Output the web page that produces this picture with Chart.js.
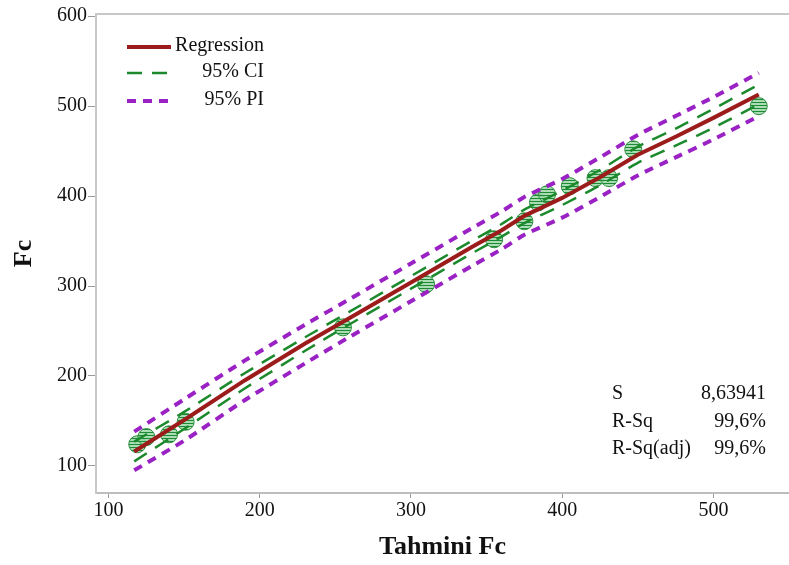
<!DOCTYPE html>
<html>
<head>
<meta charset="utf-8">
<script src="https://cdn.jsdelivr.net/npm/chart.js@4.4.1/dist/chart.umd.min.js"></script>
<style>
  html, body { margin: 0; padding: 0; background: #fff; }
  #wrap { width: 789px; height: 565px; }
</style>
</head>
<body>
<div id="wrap"><canvas id="fitChart"></canvas></div>
<script>
// observations: predicted Fc (x) vs measured Fc (y)
const predicted = [119, 125, 140, 151, 255, 310, 355, 375, 384, 390, 405, 422, 431, 447, 530];
const measured = [124, 132, 135, 149, 254, 302, 352, 372, 393, 402, 411, 420, 420, 452, 500];

// fitted line and bands
const fitX = [117, 150, 190, 230, 260, 300, 340, 360, 375, 400, 425, 450, 475, 500, 530];
const regression = [116, 151, 195, 236, 265, 304, 343, 362, 378, 398, 421, 446, 466, 487, 513];
const ciUpper = [127, 160, 203, 243, 272, 311, 350, 369, 385, 406, 429, 455, 475, 497, 524];
const ciLower = [105, 141, 186, 228, 258, 297, 336, 355, 370, 390, 412, 437, 456, 476, 502];
const piUpper = [138, 174, 217, 257, 286, 325, 364, 383, 399, 419, 443, 468, 489, 510, 537];
const piLower = [95, 128, 173, 214, 244, 283, 322, 341, 357, 376, 399, 423, 443, 463, 489];

const xTicks = [100, 200, 300, 400, 500];
const yTicks = [100, 200, 300, 400, 500, 600];

const statLabels = ["S", "R-Sq", "R-Sq(adj)"];
const statValues = ["8,63941", "99,6%", "99,6%"];

const serif = '"Liberation Serif", "Times New Roman", serif';
const pts = (xs, ys) => xs.map((x, i) => ({ x: x, y: ys[i] }));

const ctx = document.getElementById("fitChart").getContext("2d");

// horizontal hatch used inside the markers
function hatch() {
  const c = document.createElement("canvas");
  c.width = 4;
  c.height = 3;
  const g = c.getContext("2d");
  g.fillStyle = "rgba(150, 212, 162, 0.8)";
  g.fillRect(0, 0, 4, 3);
  g.fillStyle = "#1e8a36";
  g.fillRect(0, 0, 4, 1);
  return ctx.createPattern(c, "repeat");
}

// top frame line, legend and the stats block
const extras = {
  id: "extras",
  afterDraw(chart) {
    const { ctx: c, chartArea: a } = chart;
    c.save();
    c.strokeStyle = "#c8c8c8";
    c.lineWidth = 2;
    c.beginPath();
    c.moveTo(a.left, a.top);
    c.lineTo(a.right, a.top);
    c.stroke();

    c.font = "20px " + serif;
    c.fillStyle = "#111";
    c.textBaseline = "middle";
    const rows = [46, 72, 100];
    chart.data.datasets.slice(0, 3).forEach((ds, i) => {
      c.strokeStyle = ds.borderColor;
      c.lineWidth = ds.borderWidth;
      c.setLineDash(ds.borderDash || []);
      c.beginPath();
      c.moveTo(127, rows[i] + 1);
      c.lineTo(171, rows[i] + 1);
      c.stroke();
      c.setLineDash([]);
      c.textAlign = "right";
      c.fillText(ds.label, 264, rows[i]);
    });

    const statRows = [394, 422, 449];
    statLabels.forEach((t, i) => {
      c.textAlign = "left";
      c.fillText(t, 612, statRows[i]);
      c.textAlign = "right";
      c.fillText(statValues[i], 766, statRows[i]);
    });
    c.restore();
  },
};

const fitChart = new Chart(ctx, {
  type: "scatter",
  data: {
    datasets: [
      {
        type: "line",
        label: "Regression",
        data: pts(fitX, regression),
        borderColor: "#9c1c1c",
        borderWidth: 4,
        pointRadius: 0,
        tension: 0,
      },
      {
        type: "line",
        label: "95% CI",
        data: pts(fitX, ciUpper),
        borderColor: "#1c8a2c",
        borderWidth: 2.5,
        borderDash: [15, 10],
        pointRadius: 0,
        tension: 0.2,
      },
      {
        type: "line",
        label: "95% PI",
        data: pts(fitX, piUpper),
        borderColor: "#9a22c4",
        borderWidth: 4,
        borderDash: [9, 7],
        pointRadius: 0,
        tension: 0.2,
      },
      {
        type: "line",
        label: "95% CI lower",
        data: pts(fitX, ciLower),
        borderColor: "#1c8a2c",
        borderWidth: 2.5,
        borderDash: [15, 10],
        pointRadius: 0,
        tension: 0.2,
      },
      {
        type: "line",
        label: "95% PI lower",
        data: pts(fitX, piLower),
        borderColor: "#9a22c4",
        borderWidth: 4,
        borderDash: [9, 7],
        pointRadius: 0,
        tension: 0.2,
      },
      {
        label: "Fc",
        data: pts(predicted, measured),
        pointRadius: 8.5,
        pointBackgroundColor: hatch(),
        pointBorderColor: "#2b8f3d",
        pointBorderWidth: 1,
      },
    ],
  },
  options: {
    responsive: true,
    maintainAspectRatio: false,
    animation: false,
    layout: { autoPadding: false, padding: { top: 14, right: 0, left: 0, bottom: 0 } },
    plugins: {
      legend: { display: false },
      tooltip: { enabled: false },
    },
    scales: {
      x: {
        type: "linear",
        min: 91.7,
        max: 550,
        afterBuildTicks: (s) => {
          s.ticks = xTicks.map((v) => ({ value: v }));
        },
        afterFit: (s) => {
          s.height = 72;
        },
        grid: { drawOnChartArea: false, tickLength: 5, color: "#9a9a9a" },
        border: { color: "#bdbdbd", width: 2 },
        ticks: {
          font: { family: serif, size: 20 },
          color: "#111",
          padding: 1,
          maxRotation: 0,
        },
        title: {
          display: true,
          text: "Tahmini Fc",
          font: { family: serif, size: 26, weight: "bold", lineHeight: 1.2 },
          color: "#111",
          padding: { top: 0, bottom: 2 },
        },
      },
      y: {
        type: "linear",
        min: 69.8,
        max: 602.5,
        afterBuildTicks: (s) => {
          s.ticks = yTicks.map((v) => ({ value: v }));
        },
        afterFit: (s) => {
          s.width = 96;
        },
        grid: { drawOnChartArea: false, tickLength: 8, color: "#9a9a9a" },
        border: { color: "#c8c8c8", width: 2 },
        ticks: {
          font: { family: serif, size: 20 },
          color: "#111",
          padding: 1,
        },
        title: {
          display: true,
          text: "Fc",
          font: { family: serif, size: 26, weight: "bold", lineHeight: 1.2 },
          color: "#111",
          padding: { top: 9, bottom: 0 },
        },
      },
    },
  },
  plugins: [extras],
});
</script>
</body>
</html>
